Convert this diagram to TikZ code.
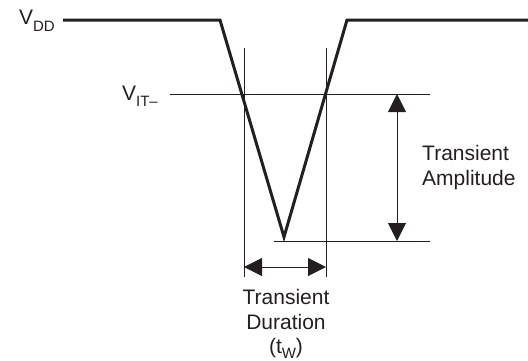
\documentclass[tikz,border=0pt]{standalone}
\usepackage{fontspec}
\setmainfont{Liberation Sans}
\usetikzlibrary{arrows.meta}
\definecolor{ink}{HTML}{231F20}
\begin{document}
\begin{tikzpicture}[x=1pt,y=-1pt,
  signal/.style={line width=3pt, line join=miter, draw=ink},
  guide/.style={line width=1pt, draw=ink},
  dim/.style={line width=1pt, draw=ink,
    {Triangle[length=18pt,width=18pt]}-{Triangle[length=18pt,width=18pt]}},
  lbl/.style={font=\fontsize{21}{25}\selectfont, text=ink, inner sep=0pt},
  sub/.style={}]
\newcommand{\mysub}[2]{\raisebox{-#1}{\fontsize{15}{15}\selectfont #2}}
\useasboundingbox (0,0) rectangle (528,360);
% signal waveform
\coordinate (s0) at (63,20);
\coordinate (s1) at (220,20);
\coordinate (vb) at (284,237);
\coordinate (s2) at (347,20);
\coordinate (s3) at (528,20);
\draw[signal] (s0) -- (s1) -- (vb) -- (s2) -- (s3);
% guide lines
\coordinate (lt) at (244,48);
\coordinate (lb) at (244,277);
\coordinate (rt) at (326,48);
\coordinate (rb) at (326,277);
\coordinate (vitL) at (170,94);
\coordinate (vitR) at (430,94);
\coordinate (botL) at (274,241);
\coordinate (botR) at (430,241);
\draw[guide] (lt) -- (lb);
\draw[guide] (rt) -- (rb);
\draw[guide] (vitL) -- (vitR);
\draw[guide] (botL) -- (botR);
% dimension arrows
\coordinate (ampT) at (397,94);
\coordinate (ampB) at (397,241);
\coordinate (durL) at (244,267);
\coordinate (durR) at (326,267);
\draw[dim] (ampT) -- (ampB);
\draw[dim] (durL) -- (durR);
% labels
\node[lbl, anchor=base east] (vdd) at (55,24) {V\mysub{7.5pt}{DD}};
\node[lbl, anchor=base east] (vit) at (158,100) {V\mysub{6pt}{IT–}};
\node[lbl, anchor=base west] (amp1) at (422,160) {Transient};
\node[lbl, anchor=base west] (amp2) at (422,185) {Amplitude};
\node[lbl, anchor=base] (dur1) at (286,304) {Transient};
\node[lbl, anchor=base] (dur2) at (286,329) {Duration};
\node[lbl, anchor=base] (dur3) at (286,353) {(t\mysub{5pt}{W})};
\end{tikzpicture}
\end{document}
